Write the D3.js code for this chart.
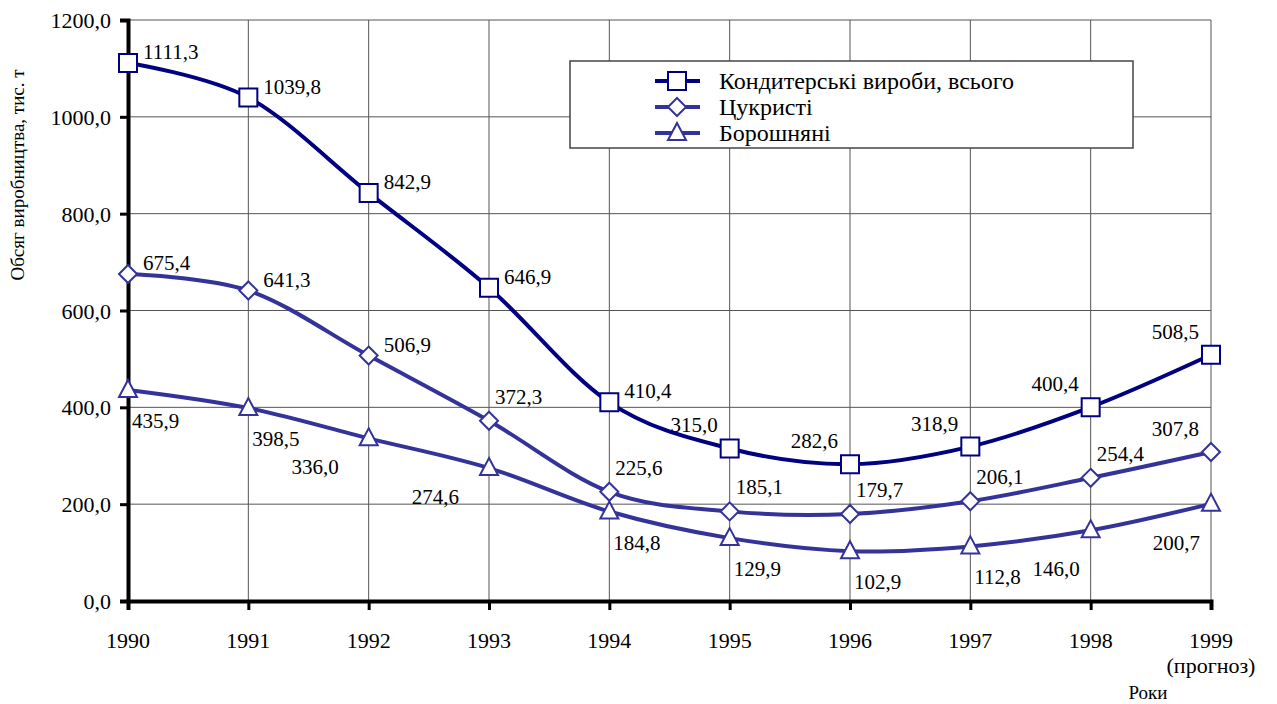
<!DOCTYPE html>
<html>
<head>
<meta charset="utf-8">
<script src="https://cdn.jsdelivr.net/npm/d3@7"></script>
</head>
<body style="margin:0; background:#fff">
<svg width="1277" height="704"></svg>
<script>
// data
const years = [1990, 1991, 1992, 1993, 1994, 1995, 1996, 1997, 1998, 1999]
const seriesNames = ["Кондитерські вироби, всього", "Цукристі", "Борошняні"]
const totalValues = [1111.3, 1039.8, 842.9, 646.9, 410.4, 315.0, 282.6, 318.9, 400.4, 508.5]
const sugarValues = [675.4, 641.3, 506.9, 372.3, 225.6, 185.1, 179.7, 206.1, 254.4, 307.8]
const flourValues = [435.9, 398.5, 336.0, 274.6, 184.8, 129.9, 102.9, 112.8, 146.0, 200.7]
const yTicks = [0, 200, 400, 600, 800, 1000, 1200]

// label placement per point
const totalPlace = ["e","e","e","e","e","nw","nw","nw","nw","nw"]
const sugarPlace = ["e","e","e","ne","ne","ne","ne","ne","ne","nw"]
const flourPlace = ["s","s","sw2","sw2","s","s","s","s","sw","sw"]

const placeOffsets = {
  e:   {anchor: "start", dx: 15, dy: -11},
  ne:  {anchor: "start", dx: 6, dy: -24},
  nw:  {anchor: "end", dx: -12, dy: -23},
  s:   {anchor: "start", dx: 4, dy: 31},
  sw:  {anchor: "end", dx: -11, dy: 39},
  sw2: {anchor: "end", dx: -30, dy: 29}
}

const serif = "Liberation Serif"
const fmt = v => v.toFixed(1).replace(".", ",")

let svg = d3.select("svg")

let x = d3.scaleLinear().domain([1990, 1999]).range([128, 1211])
let y = d3.scaleLinear().domain([0, 1200]).range([601, 20])

// gridlines
svg.append("g").selectAll("line")
  .data(yTicks.slice(1)).enter()
  .append("line")
    .attr("x1", x(1990)).attr("x2", x(1999))
    .attr("y1", d => y(d)).attr("y2", d => y(d))
    .attr("stroke", "#555").attr("stroke-width", 1)

svg.append("g").selectAll("line")
  .data(years.slice(1)).enter()
  .append("line")
    .attr("x1", d => x(d)).attr("x2", d => x(d))
    .attr("y1", y(0)).attr("y2", y(1200))
    .attr("stroke", "#555").attr("stroke-width", 1)

// axes (lines from d3.axis, labels added straight on the svg)
let yAxis = svg.append("g")
  .attr("transform", "translate(" + x(1990) + ",0)")
  .call(d3.axisLeft(y).tickValues(yTicks).tickFormat("").tickSize(8))
yAxis.select(".domain").attr("stroke", "#000").attr("stroke-width", 4)
yAxis.selectAll(".tick line").attr("stroke-width", 3)
yAxis.selectAll(".tick text").remove()

let xAxis = svg.append("g")
  .attr("transform", "translate(0," + y(0) + ")")
  .call(d3.axisBottom(x).tickValues(years).tickFormat("").tickSize(9))
xAxis.select(".domain").attr("stroke", "#000").attr("stroke-width", 4)
xAxis.selectAll(".tick line").attr("stroke-width", 3)
xAxis.selectAll(".tick text").remove()

svg.selectAll("text.ytick")
  .data(yTicks).enter()
  .append("text")
    .attr("class", "ytick")
    .attr("x", x(1990) - 17)
    .attr("y", d => y(d) + 8)
    .attr("text-anchor", "end")
    .attr("font-family", serif).attr("font-size", 22)
    .text(fmt)

svg.selectAll("text.xtick")
  .data(years).enter()
  .append("text")
    .attr("class", "xtick")
    .attr("x", d => x(d))
    .attr("y", y(0) + 47)
    .attr("text-anchor", "middle")
    .attr("font-family", serif).attr("font-size", 22)
    .text(d => d)

svg.append("text")
  .attr("x", x(1999)).attr("y", 673)
  .attr("text-anchor", "middle")
  .attr("font-family", serif).attr("font-size", 22)
  .text("(прогноз)")

svg.append("text")
  .attr("x", 1148).attr("y", 699)
  .attr("text-anchor", "middle")
  .attr("font-family", serif).attr("font-size", 19)
  .text("Роки")

svg.append("text")
  .attr("transform", "translate(24,175) rotate(-90)")
  .attr("text-anchor", "middle")
  .attr("font-family", serif).attr("font-size", 19)
  .text("Обсяг виробництва, тис. т")

// series
const series = [
  {name: seriesNames[0], values: totalValues, place: totalPlace, color: "#000080", marker: "square"},
  {name: seriesNames[1], values: sugarValues, place: sugarPlace, color: "#333399", marker: "diamond"},
  {name: seriesNames[2], values: flourValues, place: flourPlace, color: "#333399", marker: "triangle"}
]

const markerPath = {
  square: "M-9,-9H9V9H-9Z",
  diamond: "M0,-9L9,0L0,9L-9,0Z",
  triangle: "M0,-10L9,7H-9Z"
}

let line = d3.line()
  .x((d, i) => x(years[i]))
  .y(d => y(d))
  .curve(d3.curveCatmullRom.alpha(0))

series.slice().reverse().forEach(function(s){
  svg.append("path")
    .datum(s.values)
    .attr("d", line)
    .attr("fill", "none")
    .attr("stroke", s.color)
    .attr("stroke-width", 4)
})

series.forEach(function(s, k){
  svg.append("g").selectAll("path")
    .data(s.values).enter()
    .append("path")
      .attr("d", markerPath[s.marker])
      .attr("transform", (d, i) => "translate(" + x(years[i]) + "," + y(d) + ")")
      .attr("fill", "#fff")
      .attr("stroke", s.color)
      .attr("stroke-width", 2)

  svg.selectAll("text.lbl" + k)
    .data(s.values).enter()
    .append("text")
      .attr("class", "lbl" + k)
      .attr("x", (d, i) => x(years[i]) + placeOffsets[s.place[i]].dx)
      .attr("y", (d, i) => y(d) + placeOffsets[s.place[i]].dy + 7)
      .attr("text-anchor", (d, i) => placeOffsets[s.place[i]].anchor)
      .attr("font-family", serif).attr("font-size", 21)
      .text(fmt)
})

// legend
svg.append("rect")
  .attr("x", 570).attr("y", 61).attr("width", 563).attr("height", 87)
  .attr("fill", "#fff").attr("stroke", "#444").attr("stroke-width", 1.5)

series.forEach(function(s, i){
  let ly = 81 + i * 26
  svg.append("line")
    .attr("x1", 655).attr("x2", 700).attr("y1", ly).attr("y2", ly)
    .attr("stroke", s.color).attr("stroke-width", 4)
  svg.append("path")
    .attr("d", markerPath[s.marker])
    .attr("transform", "translate(677," + ly + ")")
    .attr("fill", "#fff").attr("stroke", s.color).attr("stroke-width", 2)
  svg.append("text")
    .attr("x", 719).attr("y", ly + 8)
    .attr("font-family", serif).attr("font-size", 24)
    .text(s.name)
})
</script>
</body>
</html>
